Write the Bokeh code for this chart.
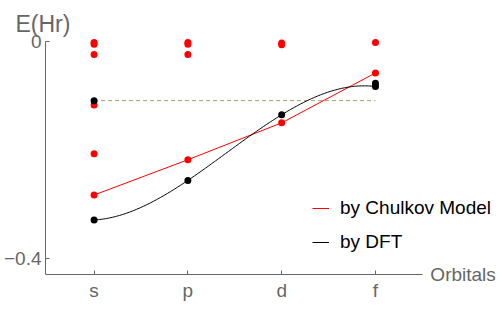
import numpy as np
from bokeh.plotting import figure
from bokeh.models import Range1d, FixedTicker, Label, Legend, LegendItem, Title
from bokeh.embed import file_html
from bokeh.resources import INLINE

# ---- data ----
orbitals = ["s", "p", "d", "f"]
orbital_pos = [1, 2, 3, 4]

chulkov_curve = [-0.283, -0.218, -0.150, -0.058]
chulkov_x = [1, 1, 1, 1, 1, 1, 2, 2, 2, 2, 3, 3, 3, 4, 4]
chulkov_e = [-0.002, -0.005, -0.024, -0.117, -0.207, -0.283,
             -0.002, -0.005, -0.024, -0.218,
             -0.003, -0.006, -0.150,
             -0.002, -0.058]

dft_curve = [-0.329, -0.256, -0.135, -0.083]
dft_x = [1, 1, 2, 3, 4, 4]
dft_e = [-0.329, -0.109, -0.256, -0.135, -0.083, -0.077]

fermi_level = -0.109
y_ticks = [-0.4, 0.0]
y_tick_labels = {-0.4: "\u22120.4", 0: "0"}

FONT = "Liberation Sans"
GRAY = "#666666"

X0, X_AXIS_END, X1 = 0.482, 4.5, 5.333
Y_AXIS_START, Y_AXIS_END = -0.4295, 0.0
Y0, Y1 = -0.494, 0.0092

p = figure(width=500, height=309, output_backend="svg", toolbar_location=None,
           x_range=Range1d(X0, X1), y_range=Range1d(Y0, Y1),
           min_border_left=44, min_border_right=0, min_border_top=36,
           min_border_bottom=0)
p.outline_line_color = None
p.xgrid.visible = False
p.ygrid.visible = False
p.background_fill_color = "white"

# axes
for ax in (p.xaxis[0], p.yaxis[0]):
    ax.axis_line_color = GRAY
    ax.major_tick_line_color = GRAY
    ax.major_tick_in = 4
    ax.major_tick_out = 0
    ax.minor_tick_line_color = None
    ax.major_label_text_color = GRAY
    ax.major_label_text_font = FONT

p.xaxis.fixed_location = Y_AXIS_START
p.xaxis.bounds = (X0, X_AXIS_END)
p.xaxis.ticker = FixedTicker(ticks=orbital_pos)
p.xaxis.major_label_overrides = {k: v for k, v in zip(orbital_pos, orbitals)}
p.xaxis.major_label_text_font_size = "19px"
p.xaxis.major_label_standoff = 5

p.yaxis.bounds = (Y_AXIS_START, Y_AXIS_END)
p.yaxis.ticker = FixedTicker(ticks=y_ticks)
p.yaxis.major_label_overrides = y_tick_labels
p.yaxis.major_label_text_font_size = "19px"
p.yaxis.major_label_standoff = 4

# reference level
p.line([orbital_pos[0], orbital_pos[-1]], [fermi_level, fermi_level],
       line_color="#a3a36a", line_width=1, line_dash="4 3")

# Chulkov model
r_red = p.line(orbital_pos, chulkov_curve, line_color="#ff0000", line_width=1)
p.scatter(chulkov_x, chulkov_e, size=7, fill_color="#ff0000", line_color=None)

# DFT curve (cubic through the DFT points)
coef = np.polyfit(orbital_pos, dft_curve, 3)
xs = np.linspace(orbital_pos[0], orbital_pos[-1], 200)
r_black = p.line(xs, np.polyval(coef, xs), line_color="black", line_width=1)
p.scatter(dft_x, dft_e, size=7, fill_color="black", line_color=None)

# axis labels
p.add_layout(Title(text="E(Hr)", align="left", offset=-30, standoff=0,
                   vertical_align="bottom", text_font=FONT,
                   text_font_size="23px", text_font_style="normal",
                   text_color=GRAY), "above")
p.add_layout(Label(x=X_AXIS_END, y=Y_AXIS_START, text="Orbitals",
                   text_align="left", text_baseline="middle", x_offset=8,
                   text_font=FONT, text_font_size="19px", text_color=GRAY))

legend = Legend(items=[LegendItem(label="by Chulkov Model", renderers=[r_red]),
                       LegendItem(label="by DFT", renderers=[r_black])],
                location=(267, 55), padding=0, margin=0, spacing=10,
                glyph_width=17, glyph_height=24, label_height=24,
                label_standoff=11, label_text_font=FONT,
                label_text_font_size="19px", label_text_color="black",
                border_line_color=None, background_fill_alpha=0)
p.add_layout(legend)

open("out.html", "w").write(file_html(p, INLINE))
